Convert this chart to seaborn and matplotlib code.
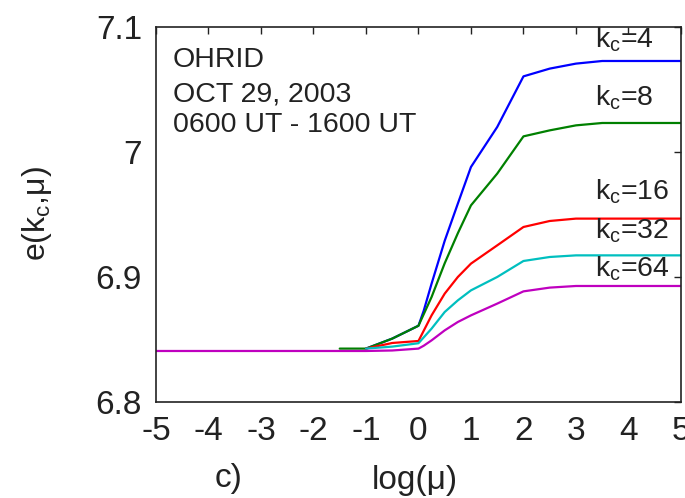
import matplotlib
matplotlib.use("Agg")
import matplotlib.pyplot as plt
import seaborn as sns
import pandas as pd

# Curves e(k_c, mu) versus log(mu) for several cutoff values k_c
x_k4 = [-1.0, -0.5, 0.0, 0.1, 0.25, 0.5, 0.75, 1.0, 1.5, 2.0, 2.5, 3.0, 3.5, 5.0]
e_k4 = [6.8427, 6.8507, 6.861, 6.873, 6.8947, 6.929, 6.9587, 6.988, 7.020, 7.0605, 7.0667, 7.0707, 7.0728, 7.0728]

x_k8 = [-1.5, -1.0, -0.5, 0.0, 0.25, 0.5, 0.75, 1.0, 1.5, 2.0, 2.5, 3.0, 3.5, 5.0]
e_k8 = [6.8427, 6.8427, 6.8507, 6.861, 6.884, 6.911, 6.935, 6.9573, 6.9827, 7.0125, 7.0173, 7.0213, 7.0232, 7.0232]

x_k16 = [-1.0, -0.5, 0.0, 0.25, 0.5, 0.75, 1.0, 1.5, 2.0, 2.5, 3.0, 5.0]
e_k16 = [6.8427, 6.8472, 6.8488, 6.8693, 6.8867, 6.900, 6.9107, 6.9253, 6.940, 6.9448, 6.9467, 6.9467]

x_k32 = [-1.0, -0.5, 0.0, 0.25, 0.5, 0.75, 1.0, 1.5, 2.0, 2.5, 3.0, 5.0]
e_k32 = [6.8427, 6.8443, 6.847, 6.8587, 6.872, 6.8813, 6.8893, 6.900, 6.9128, 6.916, 6.9173, 6.9173]

x_k64 = [-5.0, -1.0, -0.5, 0.0, 0.1, 0.25, 0.5, 0.75, 1.0, 1.5, 2.0, 2.5, 3.0, 5.0]
e_k64 = [6.8408, 6.8408, 6.8412, 6.8427, 6.845, 6.8493, 6.8573, 6.864, 6.8693, 6.8787, 6.8885, 6.8915, 6.8928, 6.8928]

kc_values = [4, 8, 16, 32, 64]
kc_colors = ["#0000ff", "#008000", "#ff0000", "#00bfbf", "#bf00bf"]
# label anchor (log(mu), e) for each k_c annotation
label_x = [3.37, 3.37, 3.37, 3.37, 3.37]
label_y = [7.0837, 7.037, 6.9616, 6.931, 6.900]

x_ticks = [-5, -4, -3, -2, -1, 0, 1, 2, 3, 4, 5]
y_ticks = [6.8, 6.9, 7.0, 7.1]
y_tick_labels = ["6.8", "6.9", "7", "7.1"]
info_lines = ["OHRID", "OCT 29, 2003", "0600 UT - 1600 UT"]

frames = []
for kc, xs, es in zip(kc_values,
                      [x_k4, x_k8, x_k16, x_k32, x_k64],
                      [e_k4, e_k8, e_k16, e_k32, e_k64]):
    frames.append(pd.DataFrame({"logmu": xs, "e": es, "kc": str(kc)}))
df = pd.concat(frames, ignore_index=True)

sns.set_style("white")
plt.rcParams["font.family"] = ["Liberation Sans", "DejaVu Sans"]
plt.rcParams["mathtext.fontset"] = "custom"
plt.rcParams["mathtext.rm"] = "Liberation Sans"
plt.rcParams["mathtext.it"] = "Liberation Sans:italic"
plt.rcParams["axes.unicode_minus"] = False

fig = plt.figure(figsize=(6.85, 4.98), dpi=100)
ax = fig.add_axes([0.2277, 0.1928, 0.7664, 0.753])

sns.lineplot(data=df, x="logmu", y="e", hue="kc", hue_order=[str(k) for k in kc_values],
             palette=kc_colors, sort=False, estimator=None, legend=False,
             linewidth=1.6, ax=ax)

ax.set_xlim(-5, 5)
ax.set_ylim(6.8, 7.1)
ax.set_xticks(x_ticks)
ax.set_xticklabels([str(t) for t in x_ticks])
ax.set_yticks(y_ticks)
ax.set_yticklabels(y_tick_labels)
ax.tick_params(direction="in", length=5, width=1.0, top=True, right=True,
               labelsize=24, colors="#222222", pad=10)
for s in ax.spines.values():
    s.set_color("#222222")
    s.set_linewidth(1.2)

ax.set_xlabel("")
ax.set_ylabel("")
fig.text(415 / 685, 1 - 480 / 498, "log(μ)", fontsize=24, ha="center", va="center", color="#222222")
fig.text(229 / 685, 1 - 478 / 498, "c)", fontsize=24, ha="center", va="center", color="#222222")
fig.text(37 / 685, 1 - 214 / 498, r"e(k$_\mathregular{c}$,μ)", fontsize=23, rotation=90,
         ha="center", va="center", color="#222222")

for i, line in enumerate(info_lines):
    ax.text(0.032, [0.894, 0.801, 0.721][i], line, transform=ax.transAxes,
            fontsize=20.5, ha="left", va="baseline", color="#222222")

for kc, lx, ly in zip(kc_values, label_x, label_y):
    ax.text(lx, ly, r"k$_\mathregular{c}$=" + str(kc), fontsize=20.5, ha="left",
            va="baseline", color="#222222", clip_on=False)

fig.savefig("out.png", dpi=100)
